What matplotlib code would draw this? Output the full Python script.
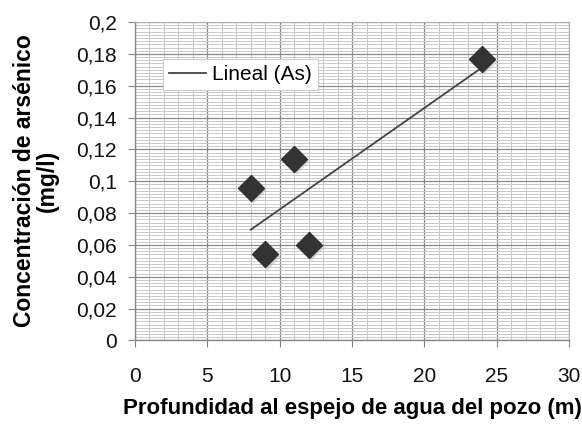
import numpy as np
import matplotlib.pyplot as plt
import matplotlib.transforms as mtransforms
from matplotlib.ticker import MultipleLocator, FuncFormatter

plt.rcParams['font.family'] = ['Liberation Sans', 'DejaVu Sans']

# profundidad (m) y concentracion de arsenico (mg/l)
depth = [8, 9, 11, 12, 24]
arsenic = [0.096, 0.054, 0.114, 0.060, 0.177]

xticks = [0, 5, 10, 15, 20, 25, 30]
yticks = [0, 0.02, 0.04, 0.06, 0.08, 0.1, 0.12, 0.14, 0.16, 0.18, 0.2]

# linea de tendencia (ajuste lineal como en Excel)
m, b = np.polyfit(depth, arsenic, 1)
xt = np.array([min(depth), max(depth)])

fig = plt.figure(figsize=(5.82, 4.28), dpi=100)
ax = fig.add_axes([0.232, 0.2045, 0.746, 0.744])

ax.set_xlim(0, 30)
ax.set_ylim(0, 0.2)
ax.set_xticks(xticks)
ax.set_yticks(yticks)
ax.xaxis.set_minor_locator(MultipleLocator(1))
ax.yaxis.set_minor_locator(MultipleLocator(0.002))
ax.yaxis.set_major_formatter(FuncFormatter(lambda v, p: ('%g' % round(v, 3)).replace('.', ',')))

ax.grid(which='minor', color='#c8c8c8', lw=0.7)
ax.grid(which='major', color='#8a8a8a', lw=0.9)
ax.set_axisbelow(True)

for s in ['top', 'right']:
    ax.spines[s].set_color('#b0b0b0')
for s in ['left', 'bottom']:
    ax.spines[s].set_color('#888888')
    ax.spines[s].set_linewidth(1.0)

ax.tick_params(which='major', length=5, color='#888888', labelsize=15, labelcolor='#111111')
ax.tick_params(axis='y', which='major', pad=8)
ax.tick_params(axis='x', which='major', pad=14)
ax.tick_params(which='minor', length=0)

# sombra de los marcadores
shadow = ax.transData + mtransforms.ScaledTranslation(1.5/72, -1.5/72, fig.dpi_scale_trans)
ax.plot(depth, arsenic, 'D', ms=13.5, color='#bdbdbd', mec='none', alpha=0.6, transform=shadow)
ax.plot(depth, arsenic, 'D', ms=13, color='#333333', mec='#333333', zorder=3)
ax.plot(xt, m * xt + b, color='#444444', lw=1.3, label='Lineal (As)', zorder=2)

leg = ax.legend(loc='upper left', bbox_to_anchor=(0.0645, 0.884), fontsize=15,
                frameon=True, fancybox=False, handlelength=1.75, handletextpad=0.3,
                borderpad=0.3, borderaxespad=0)
leg.get_frame().set_edgecolor('#cccccc')
leg.get_frame().set_linewidth(0.8)
leg.get_frame().set_alpha(1)

ax.set_xlabel('Profundidad al espejo de agua del pozo (m)', fontsize=16,
              fontweight='bold', labelpad=9)
fig.text(36/582, 1 - 181/428, 'Concentración de arsénico\n(mg/l)', fontsize=16.5,
         fontweight='bold', rotation=90, ha='center', va='center',
         multialignment='center', linespacing=0.95)

fig.savefig('out.png', dpi=100)
